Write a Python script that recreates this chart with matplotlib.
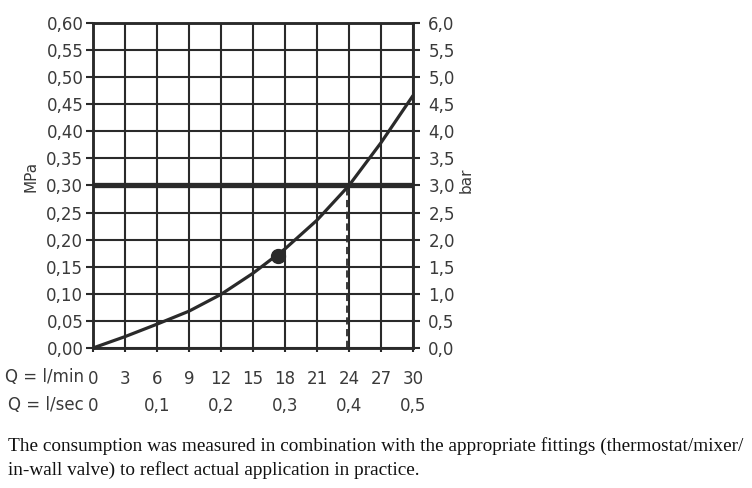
import matplotlib
matplotlib.use("Agg")
import matplotlib.pyplot as plt
import numpy as np

# ---- data ----
flow_lpm = [0, 3, 6, 9, 12, 15, 18, 21, 24, 27, 30]
pressure_mpa = [0.0, 0.021, 0.044, 0.068, 0.099, 0.138, 0.183, 0.236, 0.300, 0.379, 0.466]
marker_q = [17.3]
marker_p = [0.170]
limit_p = 0.30
limit_q = 23.85

x_ticks = [0, 3, 6, 9, 12, 15, 18, 21, 24, 27, 30]
x_labels = ["0", "3", "6", "9", "12", "15", "18", "21", "24", "27", "30"]
sec_ticks = [0, 0.1, 0.2, 0.3, 0.4, 0.5]
sec_labels = ["0", "0,1", "0,2", "0,3", "0,4", "0,5"]
mpa_ticks = [round(0.05 * i, 2) for i in range(13)]
bar_ticks = [round(0.5 * i, 1) for i in range(13)]

caption = ("The consumption was measured in combination with the appropriate fittings (thermostat/mixer/\n"
           "in-wall valve) to reflect actual application in practice.")

dark = "#2a2a2a"
txt = "#3a3a3a"

plt.rcParams['font.family'] = ['DejaVu Sans']

fig = plt.figure(figsize=(7.52, 4.88), dpi=100)
ax = fig.add_axes([93 / 752, 1 - 348 / 488, 320 / 752, 325 / 488])

ax.set_xlim(0, 30)
ax.set_ylim(0, 0.6)
ax.set_xticks(x_ticks)
ax.set_xticklabels(x_labels)
ax.set_yticks(mpa_ticks)
ax.set_yticklabels([f"{v:.2f}".replace(".", ",") for v in mpa_ticks])
ax.grid(True, color=dark, linewidth=1.5)
ax.set_axisbelow(True)
for s in ax.spines.values():
    s.set_color(dark)
    s.set_linewidth(1.8)

ax.tick_params(axis='y', direction='out', length=5, width=1.5, color=dark,
               labelsize=12, labelcolor=txt, pad=2)
ax.tick_params(axis='x', direction='out', length=3, width=1.5, color=dark,
               labelsize=12, labelcolor=txt, pad=13)

# curve
ax.plot(flow_lpm, pressure_mpa, color=dark, linewidth=2.3, solid_capstyle='round', zorder=4)
ax.plot(marker_q, marker_p, 'o', color=dark, markersize=10, zorder=5)
ax.axhline(limit_p, color=dark, linewidth=3.8, zorder=3)
ax.plot([limit_q, limit_q], [0, limit_p], color=dark, linewidth=1.3,
        linestyle=(0, (4, 2.5)), zorder=3)

# right axis in bar
ax2 = ax.twinx()
ax2.set_ylim(0, 6)
ax2.set_yticks(bar_ticks)
ax2.set_yticklabels([f"{v:.1f}".replace(".", ",") for v in bar_ticks])
ax2.tick_params(axis='y', direction='out', length=5, width=1.5, color=dark,
                labelsize=12, labelcolor=txt, pad=6)
for s in ax2.spines.values():
    s.set_color(dark)
    s.set_linewidth(1.8)

# secondary x axis in l/sec
sec = ax.secondary_xaxis('bottom', functions=(lambda q: q / 60.0, lambda s: s * 60.0))
sec.set_xticks(sec_ticks)
sec.set_xticklabels(sec_labels)
sec.tick_params(length=0, labelsize=12, labelcolor=txt, pad=35)
sec.spines['bottom'].set_visible(False)

# row labels
fig.text(84 / 752, 1 - 377 / 488, "Q = l/min", ha='right', va='center', fontsize=12, color=txt)
fig.text(84 / 752, 1 - 405 / 488, "Q = l/sec", ha='right', va='center', fontsize=12, color=txt)

# unit labels
fig.text(31 / 752, 1 - 176 / 488, "MPa", rotation=90, ha='center', va='center', fontsize=11, color=txt)
fig.text(466 / 752, 1 - 180 / 488, "bar", rotation=90, ha='center', va='center', fontsize=11, color=txt)

# caption
fig.text(8 / 752, 1 - 458 / 488, caption, ha='left', va='center', fontsize=13.9,
         family='Liberation Serif', color='#111111', linespacing=1.42)

fig.savefig("out.png", dpi=100, facecolor='white')
